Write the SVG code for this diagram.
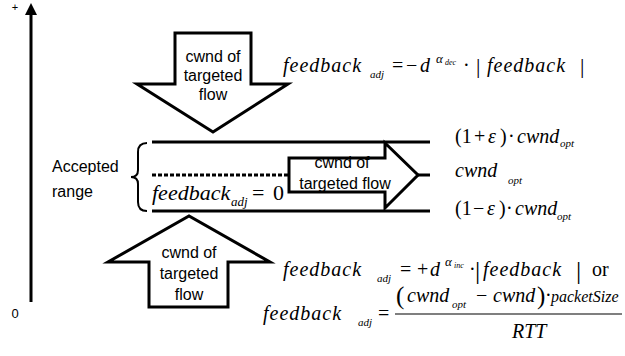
<svg xmlns="http://www.w3.org/2000/svg" width="625" height="356" viewBox="0 0 625 356">
<style>
.sans{font-family:"Liberation Sans",Arial,sans-serif;font-size:16px;fill:#000}
.m{font-family:"Liberation Serif","Times New Roman",serif;font-size:20px;fill:#000}
.i{font-style:italic}
.sub{font-size:11px;font-style:italic}
.sup{font-size:13px;font-style:italic}
.tiny{font-size:8px;font-style:italic}
.bar{font-size:22px}
.arrow{fill:#fff;stroke:#000;stroke-width:3;stroke-linejoin:miter}
.rule{stroke:#000;stroke-width:3;fill:none}
</style>
<rect width="625" height="356" fill="#fff"/>
<g id="axis">
<line x1="31" y1="12" x2="31" y2="302" class="rule"/>
<polygon points="31,3 25,15 37,15" fill="#000"/>
<text x="15" y="11" class="sans" style="font-size:11px" text-anchor="middle">+</text>
<text x="15" y="318" class="sans" style="font-size:13px" text-anchor="middle">0</text>
</g>
<g id="range-lines">
<line x1="152" y1="142" x2="430" y2="142" class="rule"/>
<line x1="152" y1="211" x2="430" y2="211" class="rule"/>
<line x1="152" y1="175" x2="289" y2="175" stroke="#000" stroke-width="3" stroke-dasharray="4,2"/>
<line x1="418" y1="175" x2="430" y2="175" class="rule"/>
</g>
<g id="accepted-range">
<path d="M147,143 Q138,143 138,152 L138,170 Q138,177 131,177 Q138,177 138,184 L138,202 Q138,211 147,211" fill="none" stroke="#000" stroke-width="2"/>
<text x="52" y="172" class="sans">Accepted</text>
<text x="52" y="197" class="sans">range</text>
</g>
<g id="down-arrow">
<polygon points="175,33 251,33 251,84 288,84 213,132 137,84 175,84" class="arrow"/>
<text x="213" y="62" class="sans" text-anchor="middle">cwnd of</text>
<text x="213" y="81" class="sans" text-anchor="middle">targeted</text>
<text x="213" y="100" class="sans" text-anchor="middle">flow</text>
</g>
<g id="right-arrow">
<polygon points="289,158 385,158 385,143 418,175 385,208 385,192 289,192" class="arrow"/>
<text x="342" y="168" class="sans" text-anchor="middle">cwnd of</text>
<text x="345" y="189" class="sans" text-anchor="middle">targeted flow</text>
</g>
<g id="up-arrow">
<polygon points="149,307 228,307 228,262 270,262 189,216 108,262 149,262" class="arrow"/>
<text x="189" y="258" class="sans" text-anchor="middle">cwnd of</text>
<text x="189" y="279" class="sans" text-anchor="middle">targeted</text>
<text x="189" y="300" class="sans" text-anchor="middle">flow</text>
</g>
<g id="eq-decrease">
<text class="m i" x="283" y="72" letter-spacing="1">feedback</text>
<text class="m sub" x="370" y="78">adj</text>
<text class="m" x="392" y="72">=</text>
<text class="m" x="406" y="72">−</text>
<text class="m i" x="420" y="72">d</text>
<text class="m sup" x="436" y="63">α</text>
<text class="m tiny" x="445" y="65">dec</text>
<text class="m" x="463" y="72">·</text>
<text class="m bar" x="476" y="73">|</text>
<text class="m i" x="487" y="72" letter-spacing="1">feedback</text>
<text class="m bar" x="580" y="73">|</text>
</g>
<g id="eq-zero">
<text class="m i" x="152" y="200" style="font-size:22px">feedback</text>
<text class="m sub" x="231" y="206" style="font-size:13px">adj</text>
<text class="m" x="252" y="200" style="font-size:22px">=</text>
<text class="m" x="273" y="200" style="font-size:22px">0</text>
</g>
<g id="labels-right">
<text class="m" x="455" y="143">(1<tspan x="474">+</tspan><tspan x="488" class="i">ε</tspan><tspan x="500">)</tspan><tspan x="508">·</tspan></text>
<text class="m i" x="517" y="143">cwnd</text>
<text class="m sub" x="560" y="147">opt</text>
<text class="m i" x="455" y="177">cwnd</text>
<text class="m sub" x="508" y="184">opt</text>
<text class="m" x="455" y="215">(1<tspan x="473">−</tspan><tspan x="487" class="i">ε</tspan><tspan x="499">)</tspan><tspan x="506">·</tspan></text>
<text class="m i" x="515" y="215">cwnd</text>
<text class="m sub" x="557" y="220">opt</text>
</g>
<g id="eq-increase">
<text class="m i" x="283" y="276" letter-spacing="1">feedback</text>
<text class="m sub" x="377" y="282">adj</text>
<text class="m" x="400" y="276">=</text>
<text class="m" x="417" y="276">+</text>
<text class="m i" x="430" y="276">d</text>
<text class="m sup" x="445" y="266">α</text>
<text class="m tiny" x="454" y="268">inc</text>
<text class="m" x="469" y="276">·</text>
<text class="m" x="475" y="279" style="font-size:26px">|</text>
<text class="m i" x="483" y="276" letter-spacing="1">feedback</text>
<text class="m" x="576" y="279" style="font-size:26px">|</text>
<text class="m" x="592" y="276">or</text>
<text class="m i" x="263" y="320" letter-spacing="1">feedback</text>
<text class="m sub" x="358" y="326">adj</text>
<text class="m" x="378" y="320">=</text>
<text class="m" x="396" y="304" style="font-size:25px">(</text>
<text class="m i" x="407" y="302">cwnd</text>
<text class="m sub" x="452" y="308">opt</text>
<text class="m" x="476" y="302">−</text>
<text class="m i" x="493" y="302">cwnd</text>
<text class="m" x="537" y="304" style="font-size:25px">)</text>
<text class="m" x="545" y="302">·</text>
<text class="m i" x="551" y="302" style="font-size:16px">packetSize</text>
<line x1="395" y1="314" x2="622" y2="314" stroke="#000" stroke-width="1.2"/>
<text class="m i" x="512" y="338">RTT</text>
</g>
</svg>
